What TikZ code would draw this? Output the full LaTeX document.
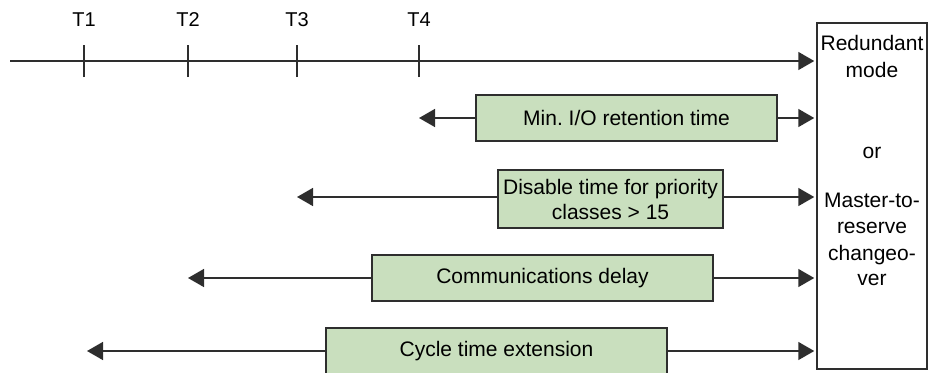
\documentclass[tikz,border=0pt]{standalone}
\usepackage{fontspec}
\setmainfont{Liberation Sans}
\usetikzlibrary{arrows.meta}
\definecolor{boxgreen}{HTML}{C9DFBE}
\definecolor{linegray}{HTML}{2E2E2E}
\frenchspacing
\begin{document}
\begin{tikzpicture}[x=1pt,y=-1pt,
  every node/.style={font=\fontsize{21}{25}\selectfont, text=black},
  conn/.style={draw=linegray, line width=1.5pt},
  tipr/.style={conn, -{Triangle[length=16pt,width=18pt]}},
  tipl/.style={conn, {Triangle[length=16pt,width=18pt]}-},
  greenbox/.style={draw=linegray, line width=1.5pt, fill=boxgreen, inner sep=0pt, align=center},
  tick/.style={draw=linegray, line width=1.8pt},
  lbl/.style={inner sep=0pt, font=\fontsize{20}{24}\selectfont}]
\useasboundingbox (0,0) rectangle (928,372);
\clip (0,0) rectangle (928,372);
% right box
\node[draw=linegray, line width=1.5pt, minimum width=110pt, minimum height=346pt, inner sep=0pt] (rbox) at (872,196) {};
\node[inner sep=0pt] (r1) at (872,43) {Redundant};
\node[inner sep=0pt] (r2) at (872,70) {mode};
\node[inner sep=0pt] (r3) at (872,153) {or};
\node[inner sep=0pt] (r4) at (872,200) {Master-to-};
\node[inner sep=0pt] (r5) at (872,228) {reserve};
\node[inner sep=0pt] (r6) at (872,255) {changeo-};
\node[inner sep=0pt] (r7) at (872,280) {ver};
% timeline
\coordinate (t0) at (10,61);
\coordinate (t1) at (84,61);
\coordinate (t2) at (188,61);
\coordinate (t3) at (297,61);
\coordinate (t4) at (419,61);
\draw[tipr] (t0) -- ([xshift=-2pt]rbox.west |- t0);
\foreach \i in {1,2,3,4}{
  \draw[tick] ([yshift=-16pt]t\i) -- ([yshift=16pt]t\i);
  \node[lbl] (lt\i) at ([yshift=41pt]t\i) {T\i};
}
% row 1
\node[greenbox, minimum width=301pt, minimum height=46pt] (b1) at (626.5,118) {Min. I/O retention time};
\coordinate (a1) at (t4 |- b1.west);
\draw[tipl] (a1) -- (b1.west);
\draw[tipr] (b1.east) -- ([xshift=-2pt]rbox.west |- b1.east);
% row 2
\node[greenbox, minimum width=225pt, minimum height=58pt] (b2) at (610.5,199) {Disable time for priority\\classes > 15};
\coordinate (a2) at (297,197);
\draw[tipl] (a2) -- (b2.west |- a2);
\draw[tipr] (b2.east |- a2) -- ([xshift=-2pt]rbox.west |- a2);
% row 3
\node[greenbox, minimum width=341pt, minimum height=46pt] (b3) at (542.5,278) {Communications delay};
\coordinate (a3) at (t2 |- b3.west);
\draw[tipl] (a3) -- (b3.west);
\draw[tipr] (b3.east) -- ([xshift=-2pt]rbox.west |- b3.east);
% row 4
\node[greenbox, minimum width=341pt, minimum height=46pt] (b4) at (496.5,351) {Cycle time extension};
\coordinate (a4) at (87,351);
\draw[tipl] (a4) -- (b4.west);
\draw[tipr] (b4.east) -- ([xshift=-2pt]rbox.west |- b4.east);
\end{tikzpicture}
\end{document}
